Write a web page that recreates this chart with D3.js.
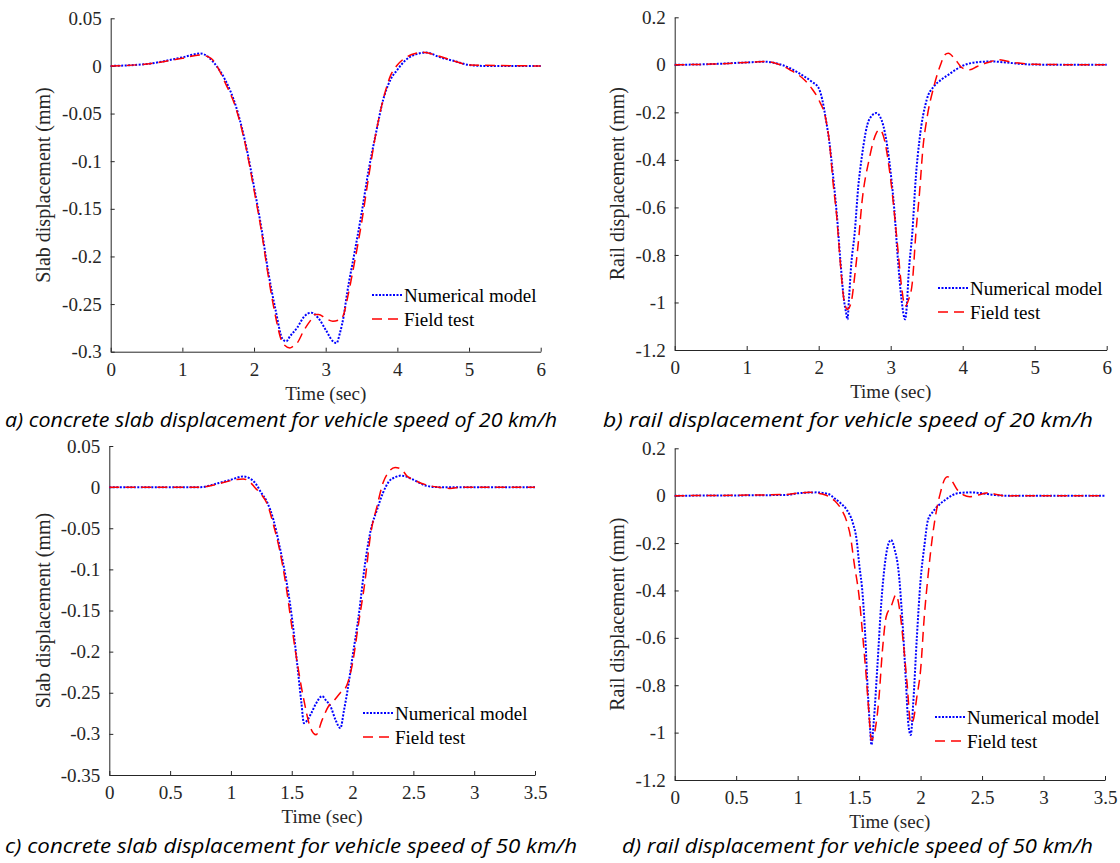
<!DOCTYPE html>
<html>
<head>
<meta charset="utf-8">
<script src="https://cdn.jsdelivr.net/npm/d3@7"></script>
<style>
  body { margin: 0; background: #fff; }
  svg { display: block; }
</style>
</head>
<body>
<div id="fig"></div>
<script>
// panel a: slab, 20 km/h
const slab20NumT = [0,0.5,1.0,1.25,1.5,1.6,1.75,1.9,2.0,2.1,2.2,2.3,2.4,2.45,2.5,2.6,2.7,2.8,2.9,3.0,3.1,3.15,3.2,3.25,3.3,3.4,3.5,3.6,3.7,3.8,3.9,4.0,4.1,4.25,4.4,4.6,4.8,5.0,5.2,6.0];
const slab20NumY = [0,0.002,0.009,0.013,-0.0025,-0.015,-0.043,-0.088,-0.127,-0.169,-0.217,-0.256,-0.287,-0.289,-0.284,-0.275,-0.263,-0.259,-0.265,-0.277,-0.289,-0.291,-0.280,-0.263,-0.238,-0.197,-0.155,-0.109,-0.071,-0.036,-0.015,-0.004,0.005,0.012,0.014,0.009,0.005,0.001,0,0];
const slab20FieldT = [0,0.5,1.0,1.25,1.4,1.5,1.6,1.75,1.9,2.0,2.1,2.2,2.3,2.4,2.5,2.55,2.6,2.7,2.8,2.85,2.9,3.0,3.1,3.2,3.25,3.3,3.4,3.5,3.6,3.7,3.8,3.9,4.0,4.1,4.2,4.35,4.6,4.8,5.0,6.0];
const slab20FieldY = [0,0.002,0.008,0.0115,0.008,-0.0025,-0.018,-0.045,-0.09,-0.13,-0.172,-0.221,-0.263,-0.291,-0.296,-0.294,-0.291,-0.277,-0.266,-0.261,-0.261,-0.265,-0.268,-0.266,-0.261,-0.245,-0.207,-0.165,-0.116,-0.071,-0.036,-0.011,0.001,0.008,0.012,0.0143,0.0098,0.005,0.001,0];

// panel b: rail, 20 km/h
const rail20NumT = [0,0.5,1.0,1.25,1.4,1.6,1.8,1.9,2.0,2.05,2.1,2.15,2.2,2.25,2.3,2.35,2.38,2.4,2.42,2.45,2.5,2.55,2.6,2.7,2.8,2.85,2.9,3.0,3.05,3.1,3.15,3.2,3.22,3.25,3.3,3.35,3.4,3.5,3.6,3.7,3.8,3.9,4.0,4.2,4.4,4.6,4.8,5.0,6.0];
const rail20NumY = [0,0.003,0.01,0.013,0.007,-0.014,-0.049,-0.07,-0.098,-0.147,-0.231,-0.329,-0.469,-0.623,-0.819,-0.987,-1.043,-1.071,-0.987,-0.847,-0.707,-0.511,-0.385,-0.231,-0.203,-0.217,-0.259,-0.455,-0.609,-0.819,-0.987,-1.071,-1.029,-0.875,-0.707,-0.469,-0.315,-0.147,-0.091,-0.063,-0.042,-0.021,-0.004,0.011,0.014,0.01,0.004,0.001,0];
const rail20FieldT = [0,0.5,1.0,1.25,1.4,1.6,1.8,1.9,2.0,2.1,2.15,2.2,2.25,2.3,2.35,2.4,2.45,2.5,2.55,2.6,2.7,2.8,2.85,2.9,3.0,3.1,3.15,3.2,3.25,3.3,3.35,3.4,3.45,3.5,3.6,3.7,3.75,3.8,3.9,4.0,4.1,4.2,4.35,4.5,4.7,5.0,6.0];
const rail20FieldY = [0,0.003,0.01,0.014,0.007,-0.021,-0.063,-0.098,-0.147,-0.231,-0.329,-0.497,-0.637,-0.833,-0.987,-1.029,-1.001,-0.889,-0.749,-0.581,-0.399,-0.287,-0.273,-0.301,-0.483,-0.777,-0.931,-1.015,-0.987,-0.917,-0.707,-0.539,-0.343,-0.231,-0.091,0.007,0.042,0.049,0.021,-0.014,-0.021,-0.007,0.01,0.021,0.01,0.002,0];

// panel c: slab, 50 km/h
const slab50NumT = [0,0.75,0.9,1.0,1.1,1.15,1.2,1.25,1.3,1.35,1.4,1.45,1.5,1.55,1.58,1.6,1.63,1.66,1.7,1.75,1.78,1.82,1.86,1.9,1.93,1.96,2.0,2.05,2.1,2.15,2.2,2.25,2.3,2.35,2.4,2.5,2.6,2.7,3.5];
const slab50NumY = [0,0,0.005,0.009,0.013,0.011,0.005,-0.007,-0.019,-0.04,-0.072,-0.109,-0.157,-0.222,-0.263,-0.287,-0.283,-0.275,-0.263,-0.254,-0.259,-0.267,-0.283,-0.293,-0.271,-0.246,-0.206,-0.157,-0.096,-0.052,-0.028,-0.007,0.007,0.012,0.014,0.009,0.002,0,0];
const slab50FieldT = [0,0.75,0.9,1.0,1.1,1.15,1.2,1.25,1.3,1.35,1.4,1.45,1.5,1.55,1.6,1.65,1.7,1.75,1.8,1.85,1.9,1.95,2.0,2.05,2.1,2.15,2.2,2.25,2.3,2.35,2.4,2.45,2.5,2.6,2.7,2.8,2.9,3.5];
const slab50FieldY = [0,0,0.004,0.008,0.01,0.007,-0.001,-0.009,-0.021,-0.046,-0.076,-0.117,-0.169,-0.218,-0.259,-0.291,-0.301,-0.283,-0.267,-0.259,-0.25,-0.242,-0.214,-0.165,-0.117,-0.056,-0.024,0.005,0.019,0.024,0.022,0.013,0.009,0.003,0,-0.0016,0,0];

// panel d: rail, 50 km/h
const rail50NumT = [0,0.9,1.0,1.15,1.25,1.3,1.35,1.4,1.45,1.48,1.5,1.53,1.55,1.57,1.59,1.6,1.62,1.65,1.68,1.71,1.74,1.76,1.79,1.82,1.85,1.88,1.9,1.92,1.94,1.97,2.0,2.03,2.06,2.1,2.15,2.2,2.3,2.4,2.5,2.6,2.7,3.5];
const rail50NumY = [0,0.003,0.01,0.014,0.007,-0.011,-0.032,-0.06,-0.117,-0.187,-0.286,-0.426,-0.595,-0.82,-0.989,-1.052,-0.947,-0.708,-0.454,-0.286,-0.201,-0.187,-0.229,-0.314,-0.511,-0.778,-0.961,-1.01,-0.877,-0.595,-0.356,-0.215,-0.103,-0.068,-0.039,-0.018,0.01,0.014,0.01,0.003,0,0];
const rail50FieldT = [0,0.9,1.0,1.1,1.2,1.3,1.35,1.4,1.43,1.46,1.5,1.53,1.56,1.58,1.6,1.63,1.66,1.69,1.72,1.76,1.8,1.83,1.86,1.89,1.92,1.94,1.97,2.0,2.03,2.06,2.1,2.13,2.16,2.2,2.22,2.25,2.3,2.35,2.4,2.5,2.55,2.6,2.7,2.8,3.5];
const rail50FieldY = [0,0.005,0.011,0.014,0.007,-0.021,-0.053,-0.11,-0.173,-0.286,-0.426,-0.595,-0.778,-0.919,-1.031,-0.989,-0.862,-0.651,-0.511,-0.468,-0.419,-0.482,-0.623,-0.792,-0.961,-0.947,-0.848,-0.736,-0.511,-0.342,-0.159,-0.06,0.01,0.073,0.08,0.066,0.024,0.003,-0.004,0.007,0.013,0.007,-0.001,0,0];

const xTicks20 = [0,1,2,3,4,5,6];
const xTicks50 = [0,0.5,1,1.5,2,2.5,3,3.5];
const yTicksSlab20 = [0.05,0,-0.05,-0.1,-0.15,-0.2,-0.25,-0.3];
const yTicksSlab50 = [0.05,0,-0.05,-0.1,-0.15,-0.2,-0.25,-0.3,-0.35];
const yTicksRail = [0.2,0,-0.2,-0.4,-0.6,-0.8,-1,-1.2];

const seriesNames = ["Numerical model", "Field test"];
const captions = [
  "a) concrete slab displacement for vehicle speed of 20 km/h",
  "b) rail displacement for vehicle speed of 20 km/h",
  "c) concrete slab displacement for vehicle speed of 50 km/h",
  "d) rail displacement for vehicle speed of 50 km/h"
];

const width = 1120, height = 863;
const axisColor = "#262626";
const serif = '"Liberation Serif", "DejaVu Serif", serif';

const panels = [
  { x0: 110.7, x1: 540.7, y0: 18.3, y1: 351.7, xDom: [0, 6], yDom: [-0.3, 0.05],
    xTicks: xTicks20, yTicks: yTicksSlab20, ylab: "Slab displacement (mm)", ylabX: 50,
    num: [slab20NumT, slab20NumY], field: [slab20FieldT, slab20FieldY],
    leg: { x: 372, y: 295 }, cap: { x: 5, y: 427, w: 552 } },
  { x0: 674.7, x1: 1106.7, y0: 17.3, y1: 350, xDom: [0, 6], yDom: [-1.2, 0.2],
    xTicks: xTicks20, yTicks: yTicksRail, ylab: "Rail displacement (mm)", ylabX: 624,
    num: [rail20NumT, rail20NumY], field: [rail20FieldT, rail20FieldY],
    leg: { x: 938, y: 288 }, cap: { x: 603, y: 427, w: 490 } },
  { x0: 109.3, x1: 535, y0: 446, y1: 775, xDom: [0, 3.5], yDom: [-0.35, 0.05],
    xTicks: xTicks50, yTicks: yTicksSlab50, ylab: "Slab displacement (mm)", ylabX: 50,
    num: [slab50NumT, slab50NumY], field: [slab50FieldT, slab50FieldY],
    leg: { x: 363, y: 713 }, cap: { x: 5, y: 853, w: 572 } },
  { x0: 674.7, x1: 1105, y0: 448.3, y1: 780, xDom: [0, 3.5], yDom: [-1.2, 0.2],
    xTicks: xTicks50, yTicks: yTicksRail, ylab: "Rail displacement (mm)", ylabX: 624,
    num: [rail50NumT, rail50NumY], field: [rail50FieldT, rail50FieldY],
    leg: { x: 935, y: 717 }, cap: { x: 622, y: 853, w: 471 } }
];

const svg = d3.select('#fig').append('svg')
  .attr('width', width)
  .attr('height', height);

const fmt = d => String(+d.toFixed(2));

panels.forEach((p, k) => {
  const x = d3.scaleLinear().domain(p.xDom).range([p.x0, p.x1]);
  const y = d3.scaleLinear().domain(p.yDom).range([p.y1, p.y0]);
  const g = svg.append('g');

  // bottom axis, ticks inward
  const xa = g.append('g')
    .attr('transform', `translate(0,${p.y1})`)
    .call(d3.axisBottom(x).tickValues(p.xTicks).tickFormat(fmt).tickSizeInner(-4).tickSizeOuter(0).tickPadding(11));
  // left axis, ticks inward
  const ya = g.append('g')
    .attr('transform', `translate(${p.x0},0)`)
    .call(d3.axisLeft(y).tickValues(p.yTicks).tickFormat(fmt).tickSizeInner(-4).tickSizeOuter(0).tickPadding(9));

  [xa, ya].forEach(a => {
    a.attr('font-family', serif).attr('font-size', 19);
    a.select('.domain').attr('stroke', axisColor).attr('stroke-width', 1);
    a.selectAll('.tick line').attr('stroke', axisColor);
    a.selectAll('.tick text').attr('fill', axisColor).attr('font-family', serif).attr('font-size', 19);
  });

  g.append('text')
    .attr('x', (p.x0 + p.x1) / 2)
    .attr('y', p.y1 + 48)
    .attr('text-anchor', 'middle')
    .attr('fill', axisColor)
    .attr('font-family', serif)
    .attr('font-size', 19)
    .text('Time (sec)');

  g.append('text')
    .attr('transform', `translate(${p.ylabX},${(p.y0 + p.y1) / 2}) rotate(-90)`)
    .attr('text-anchor', 'middle')
    .attr('fill', axisColor)
    .attr('font-family', serif)
    .attr('font-size', 20)
    .text(p.ylab);

  const line = d3.line()
    .x(d => x(d[0]))
    .y(d => y(d[1]))
    .curve(d3.curveMonotoneX);

  const numPts = p.num[0].map((t, i) => [t, p.num[1][i]]);
  const fieldPts = p.field[0].map((t, i) => [t, p.field[1][i]]);

  g.append('path')
    .datum(numPts)
    .attr('d', line)
    .attr('fill', 'none')
    .attr('stroke', '#0000ff')
    .attr('stroke-width', 2)
    .attr('stroke-dasharray', '2,1.5');

  g.append('path')
    .datum(fieldPts)
    .attr('d', line)
    .attr('fill', 'none')
    .attr('stroke', '#ff0000')
    .attr('stroke-width', 1.5)
    .attr('stroke-dasharray', '10,6');

  // legend
  const leg = g.append('g').attr('transform', `translate(${p.leg.x},${p.leg.y})`);
  const styles = [
    { c: '#0000ff', w: 2, dash: '2,1.5' },
    { c: '#ff0000', w: 1.5, dash: '10,6' }
  ];
  seriesNames.forEach((name, i) => {
    leg.append('line')
      .attr('x1', 0).attr('x2', 30)
      .attr('y1', i * 24).attr('y2', i * 24)
      .attr('stroke', styles[i].c)
      .attr('stroke-width', styles[i].w)
      .attr('stroke-dasharray', styles[i].dash);
    leg.append('text')
      .attr('x', 32)
      .attr('y', i * 24)
      .attr('dy', '0.35em')
      .attr('fill', '#000')
      .attr('font-family', serif)
      .attr('font-size', 19)
      .text(name);
  });

  svg.append('text')
    .attr('x', p.cap.x)
    .attr('y', p.cap.y)
    .attr('textLength', p.cap.w)
    .attr('lengthAdjust', 'spacingAndGlyphs')
    .attr('fill', '#000')
    .attr('font-family', '"Open Sans", "Noto Sans", sans-serif')
    .attr('font-style', 'italic')
    .attr('font-size', 20)
    .text(captions[k]);
});
</script>
</body>
</html>
